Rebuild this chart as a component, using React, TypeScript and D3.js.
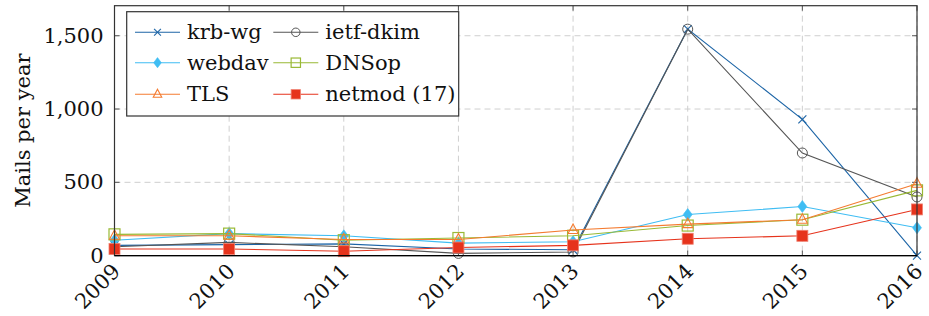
import React from "react";
import * as d3 from "d3";

const years = [2009, 2010, 2011, 2012, 2013, 2014, 2015, 2016];
const krbWg = [70, 75, 80, 45, 40, 1545, 930, 0];
const ietfDkim = [60, 90, 60, 15, 25, 1545, 700, 400];
const webdav = [105, 150, 135, 85, 95, 280, 335, 190];
const dnsop = [145, 150, 105, 120, 135, 205, 245, 445];
const tls = [135, 135, 110, 110, 175, 215, 245, 490];
const netmod = [45, 45, 30, 55, 70, 115, 135, 315];
const yTicks = [0, 500, 1000, 1500];
const seriesNames = ["krb-wg", "ietf-dkim", "webdav", "DNSop", "TLS", "netmod (17)"];

const W = 929, H = 316;
const L = 114.5, R = 917, T = 5.7, B = 255.6;
const FONT = '"DejaVu Serif", serif';
const TS: React.CSSProperties = { fontFamily: FONT };
const FS = 21;

type Marker = "x" | "circle" | "diamond" | "square" | "triangle" | "fsquare";
const series: { name: string; values: number[]; color: string; marker: Marker }[] = [
  { name: seriesNames[0], values: krbWg, color: "#1c64a6", marker: "x" },
  { name: seriesNames[1], values: ietfDkim, color: "#555555", marker: "circle" },
  { name: seriesNames[2], values: webdav, color: "#3fbdf3", marker: "diamond" },
  { name: seriesNames[3], values: dnsop, color: "#99b935", marker: "square" },
  { name: seriesNames[4], values: tls, color: "#f47b30", marker: "triangle" },
  { name: seriesNames[5], values: netmod, color: "#e6331c", marker: "fsquare" },
];

function MarkerShape({ m, cx, cy, color, k = 1 }: { m: Marker; cx: number; cy: number; color: string; k?: number }) {
  switch (m) {
    case "x":
      return (
        <g stroke={color} strokeWidth={1.1}>
          <line x1={cx - 4 * k} y1={cy - 4 * k} x2={cx + 4 * k} y2={cy + 4 * k} />
          <line x1={cx - 4 * k} y1={cy + 4 * k} x2={cx + 4 * k} y2={cy - 4 * k} />
        </g>
      );
    case "circle":
      return <circle cx={cx} cy={cy} r={5 * k} fill="none" stroke={color} strokeWidth={1} />;
    case "diamond":
      return <path d={`M${cx},${cy - 6 * k}L${cx + 4.5 * k},${cy}L${cx},${cy + 6 * k}L${cx - 4.5 * k},${cy}Z`} fill={color} stroke={color} strokeWidth={0.6} />;
    case "square":
      return <rect x={cx - 5.5 * k} y={cy - 5.5 * k} width={11 * k} height={11 * k} fill="none" stroke={color} strokeWidth={1.2} />;
    case "triangle":
      return <path d={`M${cx},${cy - 6 * k}L${cx + 5 * k},${cy + 3.5 * k}L${cx - 5 * k},${cy + 3.5 * k}Z`} fill="none" stroke={color} strokeWidth={1.1} />;
    case "fsquare":
      return <rect x={cx - 5.5 * k} y={cy - 5.5 * k} width={11 * k} height={11 * k} fill={color} stroke="#f08070" strokeWidth={0.8} />;
  }
}

export default function App() {
  const x = d3.scaleLinear().domain([2009, 2016]).range([L, R]);
  const y = d3.scaleLinear().domain([0, 1705]).range([B, T]);
  const line = d3.line<number>().x((_, i) => x(years[i])).y((v) => y(v));
  const fmt = d3.format(",");

  const legX = 126.7, legY = 11.7, legW = 332, legH = 104.3;
  const rowY = [32.3, 62.7, 94.3];
  const colX = [135, 273.3];

  return (
    <svg width={W} height={H} style={{ position: "absolute", left: 0, top: 0, display: "block", fontFamily: FONT }}>
      <rect x={0} y={0} width={W} height={H} fill="white" />
      <g stroke="#cfcfcf" strokeWidth={1} strokeDasharray="6,4">
        {years.map((yr) => (
          <line key={"gx" + yr} x1={x(yr)} x2={x(yr)} y1={T} y2={B} />
        ))}
        {yTicks.filter((t) => t > 0).map((t) => (
          <line key={"gy" + t} x1={L} x2={R} y1={y(t)} y2={y(t)} />
        ))}
      </g>
      <g stroke="#555" strokeWidth={1}>
        {years.map((yr) => (
          <g key={"tx" + yr}>
            <line x1={x(yr)} x2={x(yr)} y1={B} y2={B - 5} />
            <line x1={x(yr)} x2={x(yr)} y1={T} y2={T + 5} />
          </g>
        ))}
        {yTicks.map((t) => (
          <g key={"ty" + t}>
            <line x1={L} x2={L + 5} y1={y(t)} y2={y(t)} />
            <line x1={R} x2={R - 5} y1={y(t)} y2={y(t)} />
          </g>
        ))}
      </g>
      {series.map((s) => (
        <g key={s.name}>
          <path d={line(s.values) || ""} fill="none" stroke={s.color} strokeWidth={1.1} />
          {s.values.map((v, i) => (
            <MarkerShape key={i} m={s.marker} cx={x(years[i])} cy={y(v)} color={s.color} />
          ))}
        </g>
      ))}
      <rect x={L} y={T} width={R - L} height={B - T} fill="none" stroke="#333" strokeWidth={1.2} />
      <line x1={L} x2={R} y1={B} y2={B} stroke="#000" strokeWidth={1.3} />
      {yTicks.map((t) => (
        <text key={"yl" + t} x={L - 11} y={y(t)} textAnchor="end" dominantBaseline="central" fontSize={FS} fill="#111" style={TS}>
          {fmt(t)}
        </text>
      ))}
      {years.map((yr) => (
        <text
          key={"xl" + yr}
          transform={`translate(${x(yr) + 2},${B + 12}) rotate(-45)`}
          textAnchor="end"
          dominantBaseline="central"
          fontSize={FS}
          fill="#111"
          style={TS}
        >
          {yr}
        </text>
      ))}
      <text transform={`translate(23,${(T + B) / 2}) rotate(-90)`} textAnchor="middle" dominantBaseline="central" fontSize={FS} fill="#111" style={TS}>
        Mails per year
      </text>
      <rect x={legX} y={legY} width={legW} height={legH} fill="white" stroke="#333" strokeWidth={1.2} />
      {series.map((s, i) => {
        const col = i % 2;
        const row = Math.floor(i / 2);
        const lx = colX[col];
        const ly = rowY[row];
        return (
          <g key={"lg" + s.name}>
            <line x1={lx} x2={lx + 45} y1={ly} y2={ly} stroke={s.color} strokeWidth={1.1} />
            <MarkerShape m={s.marker} cx={lx + 22.5} cy={ly} color={s.color} k={0.85} />
            <text x={lx + 52} y={ly} dominantBaseline="central" fontSize={FS} fill="#111" style={TS}>
              {s.name}
            </text>
          </g>
        );
      })}
    </svg>
  );
}
